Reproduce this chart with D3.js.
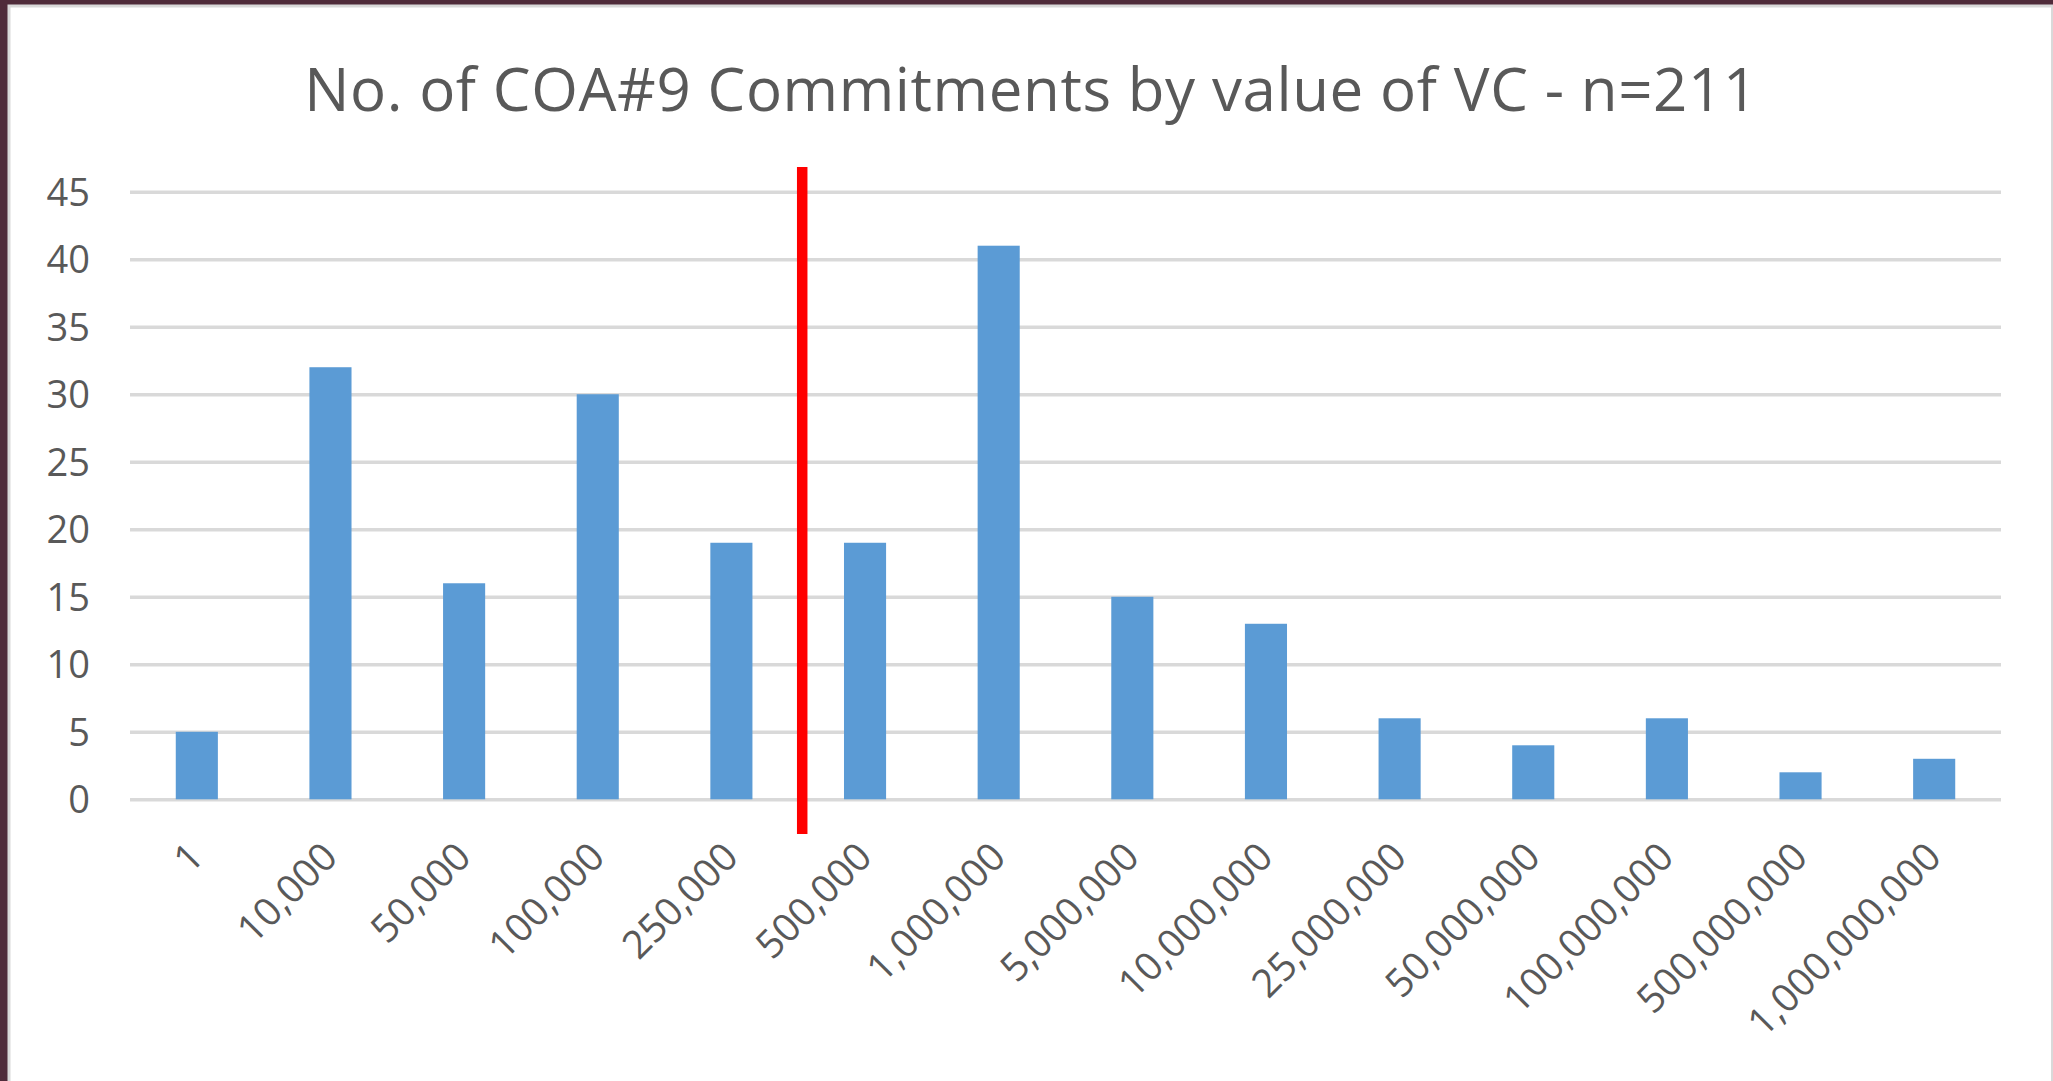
<!DOCTYPE html>
<html>
<head>
<meta charset="utf-8">
<script src="https://cdn.jsdelivr.net/npm/d3@7"></script>
<style>
  html, body { margin: 0; padding: 0; background: #4f2b3a; overflow: hidden; }
  #canvas { display: block; }
</style>
</head>
<body>
<svg id="canvas" width="2053" height="1081"></svg>
<script>
// data
let categories = ['1', '10,000', '50,000', '100,000', '250,000', '500,000', '1,000,000', '5,000,000',
    '10,000,000', '25,000,000', '50,000,000', '100,000,000', '500,000,000', '1,000,000,000']
let counts = [5, 32, 16, 30, 19, 19, 41, 15, 13, 6, 4, 6, 2, 3]
let yTicks = [0, 5, 10, 15, 20, 25, 30, 35, 40, 45]
let titleText = 'No. of COA#9 Commitments by value of VC - n=211'
let markerBefore = '500,000'   // red divider sits just before this category

let canvas = d3.select('#canvas')
let width = 2053
let height = 1081
let font = "'Open Sans', 'DejaVu Sans', sans-serif"
let textColor = '#595959'

// white chart panel inside the dark frame
canvas.append('rect')
    .attr('x', 9).attr('y', 6)
    .attr('width', width - 9.5).attr('height', height)
    .attr('fill', '#ffffff')
    .attr('stroke', '#d9d9d9')
    .attr('stroke-width', 3)

let plot = { left: 130, right: 2001, top: 191.7, bottom: 799.3 }

let x = d3.scaleBand()
    .domain(categories)
    .range([plot.left, plot.right])
    .paddingInner(0.685)
    .paddingOuter(0.3425)

let y = d3.scaleLinear()
    .domain([0, 45])
    .range([plot.bottom, plot.top])

// gridlines + y labels
let yAxis = d3.axisLeft(y)
    .tickValues(yTicks)
    .tickSize(-(plot.right - plot.left))
    .tickPadding(40)

let gy = canvas.append('g')
    .attr('transform', `translate(${plot.left},0)`)
    .call(yAxis)
gy.select('.domain').remove()
gy.selectAll('.tick line')
    .attr('stroke', '#d9d9d9')
    .attr('stroke-width', 3.5)
gy.selectAll('.tick text')
    .attr('fill', textColor)
    .style('font-family', font)
    .style('font-size', '38px')
    .attr('dy', '0.36em')

// bars
canvas.append('g')
    .selectAll('rect')
    .data(counts)
    .enter()
    .append('rect')
    .attr('x', (d, i) => x(categories[i]))
    .attr('y', d => y(d))
    .attr('width', x.bandwidth())
    .attr('height', d => y(0) - y(d))
    .attr('fill', '#5b9bd5')

// x labels, rotated
let xAxis = d3.axisBottom(x).tickSize(0).tickPadding(0)
let gx = canvas.append('g')
    .attr('transform', `translate(0,${plot.bottom})`)
    .call(xAxis)
gx.select('.domain').remove()
gx.selectAll('.tick text')
    .attr('fill', textColor)
    .style('font-family', font)
    .style('font-size', '39px')
    .attr('text-anchor', 'end')
    .attr('dy', null)
    .attr('transform', 'translate(9,60) rotate(-45)')

// red divider
let mx = x(markerBefore) - x.step() * x.paddingInner() / 2 + 4
canvas.append('line')
    .attr('x1', mx).attr('x2', mx)
    .attr('y1', 167).attr('y2', 834)
    .attr('stroke', '#ff0000')
    .attr('stroke-width', 10.5)

// title
canvas.append('text')
    .attr('x', 1031)
    .attr('y', 111)
    .attr('text-anchor', 'middle')
    .attr('fill', textColor)
    .style('font-family', font)
    .style('font-size', '60px')
    .style('letter-spacing', '0.6px')
    .text(titleText)
</script>
</body>
</html>
